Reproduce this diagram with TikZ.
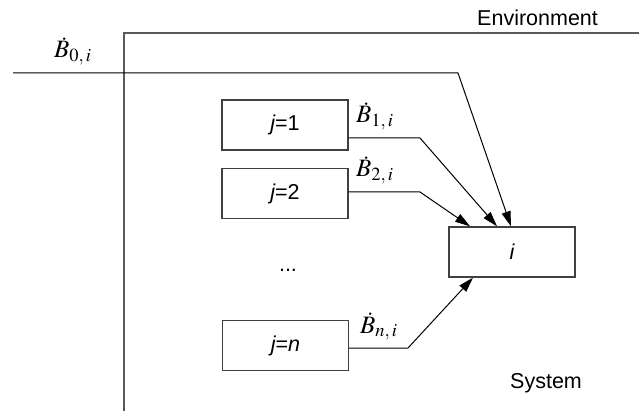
\documentclass[tikz,border=0pt]{standalone}
\usepackage{mathptmx}
\usepackage[no-math]{fontspec}
\setmainfont{Liberation Sans}
\usetikzlibrary{arrows.meta}
\tikzset{
  boundary/.style={draw=black!65, line width=1.3pt},
  flowbox/.style={draw=black!75, line width=1.3pt, minimum width=126pt, minimum height=50pt, inner sep=0pt, font=\fontsize{21.5}{24}\selectfont},
  lbl/.style={font=\fontsize{21.5}{24}\selectfont, inner sep=0pt},
  mlbl/.style={font=\fontsize{25}{28}\selectfont, inner sep=0pt},
  flow/.style={draw=black, line width=1pt, -{Triangle[length=15pt,width=9pt]}}
}
\begin{document}
\begin{tikzpicture}[x=1pt,y=1pt]
\useasboundingbox (0,0) rectangle (639,-411);
% boundary
\coordinate (bl) at (124,-411);
\coordinate (tl) at (124,-33);
\coordinate (tr) at (639,-33);
\draw[boundary] (bl) -- (tl) -- (tr);
\node[lbl, anchor=base west] (env) at (477,-26) {Environment};
\node[lbl, anchor=base west] (sys) at (510,-388) {System};
% boxes
\node[flowbox] (j1) at (285,-125) {{\itshape j}=1};
\node[flowbox] (j2) at (285,-193.5) {{\itshape j}=2};
\node[flowbox] (jn) at (285.5,-345.5) {{\itshape j}={\itshape n}};
\node[flowbox] (i) at (512,-252) {{\itshape i}};
\node[lbl] (dots) at (288,-270) {...};
% labels
\node[mlbl, anchor=base west] (b0) at (54,-58) {$\dot{B}_{0,\,i}$};
\node[mlbl, anchor=base west] (b1) at (356,-123) {$\dot{B}_{1,\,i}$};
\node[mlbl, anchor=base west] (b2) at (356,-177) {$\dot{B}_{2,\,i}$};
\node[mlbl, anchor=base west] (bn) at (360,-333) {$\dot{B}_{n,\,i}$};
% flows
\coordinate (s0) at (13,-73);
\coordinate (k0) at (458,-73);
\draw[flow] (s0) -- (k0) -- ([xshift=-1pt]i.north);
\coordinate (k1) at (420,-138);
\draw[flow] (j1.east |- k1) -- (k1) -- ([xshift=-15pt]i.north);
\coordinate (k2) at (420,-192);
\draw[flow] (j2.east |- k2) -- (k2) -- ([xshift=-42pt]i.north);
\coordinate (kn) at (408,-348);
\draw[flow] (jn.east |- kn) -- (kn) -- ([xshift=-39pt]i.south);
\end{tikzpicture}
\end{document}
